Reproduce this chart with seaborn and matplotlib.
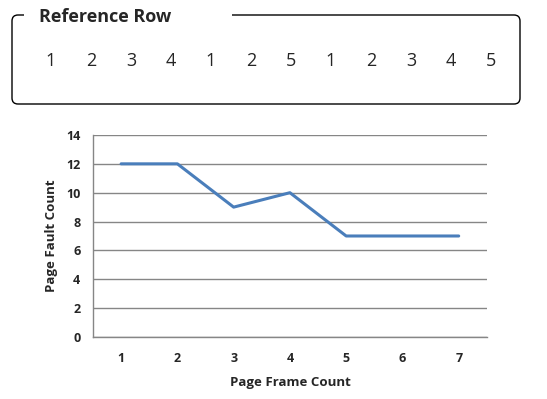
import matplotlib
matplotlib.use("Agg")
import matplotlib.pyplot as plt
import seaborn as sns
import pandas as pd
from matplotlib.patches import FancyBboxPatch, Rectangle

# data
reference_row = [1, 2, 3, 4, 1, 2, 5, 1, 2, 3, 4, 5]
frame_counts = [1, 2, 3, 4, 5, 6, 7]
fault_counts = [12, 12, 9, 10, 7, 7, 7]

df = pd.DataFrame({"frames": frame_counts, "faults": fault_counts})

sns.set_style("white")
plt.rcParams["font.family"] = ["Open Sans", "DejaVu Sans"]

fig = plt.figure(figsize=(5.47, 3.99), dpi=100)
ax = fig.add_axes([0.170, 0.1554, 0.720, 0.5063])

sns.lineplot(data=df, x="frames", y="faults", color="#4a7ebb", linewidth=2.2, ax=ax)

ax.set_xlim(0.5, 7.5)
ax.set_ylim(0, 14)
ax.set_yticks(range(0, 15, 2))
ax.set_xticks(frame_counts)
ax.set_xticks([x + 0.5 for x in [0] + frame_counts], minor=True)
ax.tick_params(axis="x", which="major", length=0, pad=11, labelsize=9)
ax.tick_params(axis="x", which="minor", length=4, color="#868686", direction="out", width=1)
ax.tick_params(axis="y", length=4, color="#868686", direction="out", width=1, labelsize=9, pad=5)
for lbl in ax.get_xticklabels() + ax.get_yticklabels():
    lbl.set_fontweight("bold")
ax.grid(axis="y", color="#868686", linewidth=1)
ax.set_axisbelow(True)
for side in ["top", "right"]:
    ax.spines[side].set_visible(False)
for side in ["left", "bottom"]:
    ax.spines[side].set_color("#868686")
    ax.spines[side].set_linewidth(1)

ax.set_xlabel("Page Frame Count", fontsize=9.5, fontweight="bold", labelpad=8)
ax.set_ylabel("Page Fault Count", fontsize=9.5, fontweight="bold", labelpad=6)

# reference row box on top
box = FancyBboxPatch((0.12, 2.95), 5.08, 0.89, boxstyle="round,pad=0,rounding_size=0.06",
                     transform=fig.dpi_scale_trans, facecolor="white", edgecolor="black",
                     linewidth=1.0)
fig.patches.append(box)
fig.patches.append(Rectangle((0.24, 3.78), 2.08, 0.12, transform=fig.dpi_scale_trans,
                             facecolor="white", edgecolor="none"))
fig.text(0.39, 3.815, "Reference Row", transform=fig.dpi_scale_trans, fontsize=13,
         fontweight="bold", va="center", ha="left")
for i, v in enumerate(reference_row):
    fig.text(0.51 + i * 0.4, 3.375, str(v), transform=fig.dpi_scale_trans, fontsize=13,
             ha="center", va="center")

fig.savefig("out.png", dpi=100)
